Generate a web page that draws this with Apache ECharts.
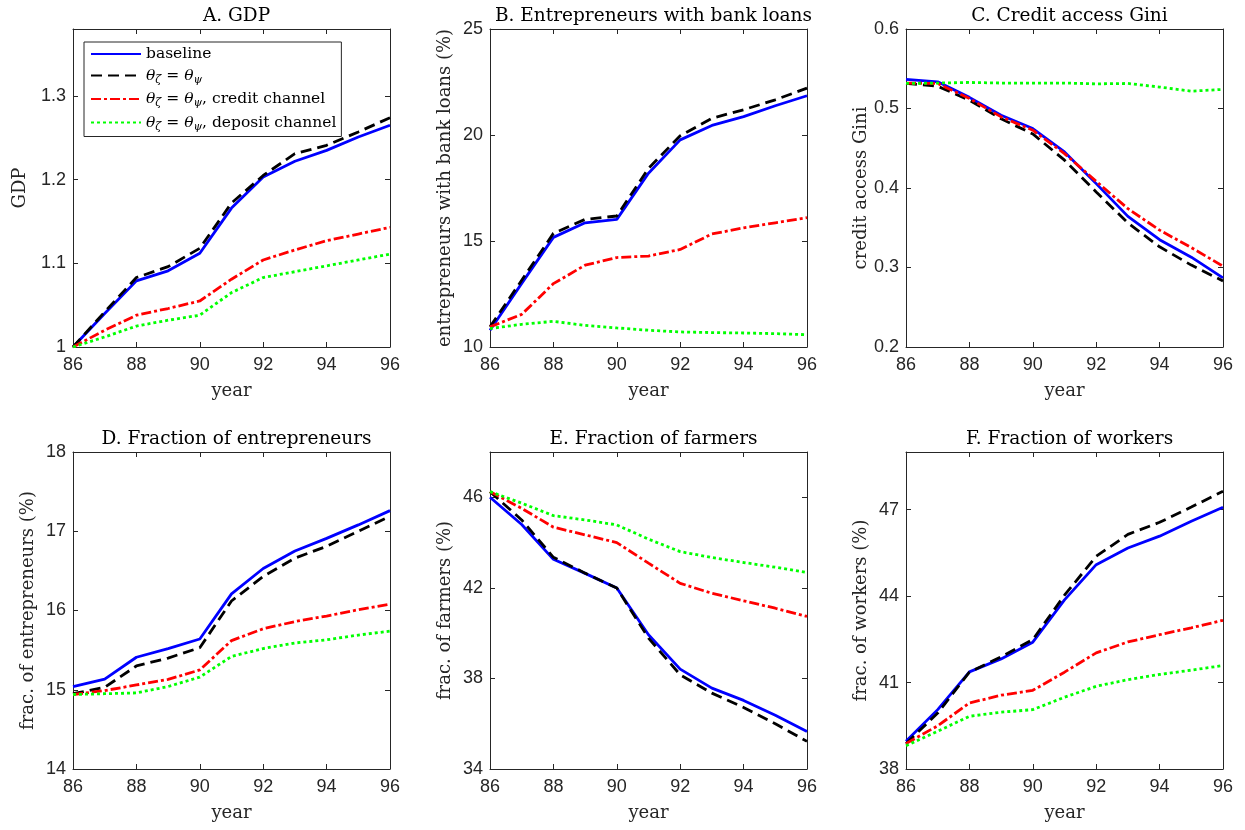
<!DOCTYPE html>
<html><head><meta charset="utf-8">
<script src="https://cdn.jsdelivr.net/npm/echarts@6/dist/echarts.min.js"></script>
<style>html,body{margin:0;padding:0;background:#fff}#c{width:1245px;height:830px}</style>
</head><body><div id="c"></div>
<script>
// ---------- DATA ----------
const years = [86, 87, 88, 89, 90, 91, 92, 93, 94, 95, 96];
const xRange = [86, 96, 2];

const panelTitles = ['A. GDP', 'B. Entrepreneurs with bank loans', 'C. Credit access Gini',
  'D. Fraction of entrepreneurs', 'E. Fraction of farmers', 'F. Fraction of workers'];
const yNames = ['GDP', 'entrepreneurs with bank loans (%)', 'credit access Gini',
  'frac. of entrepreneurs (%)', 'frac. of farmers (%)', 'frac. of workers (%)'];
const yRanges = [[1, 1.38, 0.1], [10, 25, 5], [0.2, 0.6, 0.1], [14, 18, 1], [34, 48, 4], [38, 49, 3]];
const xName = 'year';

const seriesKeys = ['baseline', 'equal', 'credit', 'deposit'];
const legendLabels = ['baseline', 'θζ = θψ', 'θζ = θψ, credit channel', 'θζ = θψ, deposit channel'];

const gdp_baseline = [1.0, 1.040, 1.079, 1.091, 1.112, 1.166, 1.203, 1.222, 1.235, 1.251, 1.265];
const gdp_equal    = [1.0, 1.042, 1.083, 1.096, 1.118, 1.172, 1.205, 1.231, 1.241, 1.257, 1.274];
const gdp_credit   = [1.0, 1.020, 1.038, 1.046, 1.055, 1.081, 1.104, 1.116, 1.127, 1.135, 1.143];
const gdp_deposit  = [1.0, 1.012, 1.025, 1.032, 1.038, 1.065, 1.083, 1.090, 1.097, 1.104, 1.111];

const loans_baseline = [10.79, 13.0, 15.17, 15.86, 16.02, 18.2, 19.77, 20.45, 20.87, 21.38, 21.85];
const loans_equal    = [10.95, 13.15, 15.36, 16.02, 16.18, 18.43, 19.96, 20.79, 21.19, 21.66, 22.21];
const loans_credit   = [10.95, 11.54, 12.99, 13.86, 14.22, 14.29, 14.6, 15.33, 15.62, 15.86, 16.1];
const loans_deposit  = [10.87, 11.07, 11.21, 11.02, 10.9, 10.79, 10.71, 10.68, 10.66, 10.63, 10.58];

const gini_baseline = [0.5366, 0.5336, 0.514, 0.4916, 0.4748, 0.4454, 0.4055, 0.3643, 0.335, 0.313, 0.287];
const gini_equal    = [0.5315, 0.528, 0.5105, 0.487, 0.468, 0.435, 0.395, 0.356, 0.326, 0.303, 0.283];
const gini_credit   = [0.532, 0.5315, 0.5126, 0.4895, 0.4727, 0.4433, 0.4084, 0.374, 0.347, 0.325, 0.3017];
const gini_deposit  = [0.5315, 0.532, 0.5328, 0.532, 0.532, 0.532, 0.531, 0.5315, 0.527, 0.5218, 0.524];

const entr_baseline = [15.04, 15.135, 15.41, 15.52, 15.64, 16.21, 16.53, 16.75, 16.91, 17.08, 17.26];
const entr_equal    = [14.95, 15.03, 15.3, 15.4, 15.53, 16.12, 16.43, 16.66, 16.81, 17.0, 17.19];
const entr_credit   = [14.94, 14.99, 15.06, 15.13, 15.25, 15.62, 15.77, 15.86, 15.93, 16.01, 16.08];
const entr_deposit  = [14.94, 14.95, 14.96, 15.04, 15.16, 15.42, 15.52, 15.59, 15.63, 15.69, 15.74];

const farm_baseline = [46.0, 44.8, 43.26, 42.64, 41.99, 39.93, 38.41, 37.57, 37.03, 36.37, 35.66];
const farm_equal    = [46.25, 45.0, 43.35, 42.65, 41.99, 39.78, 38.16, 37.35, 36.72, 36.0, 35.22];
const farm_credit   = [46.25, 45.51, 44.68, 44.34, 44.0, 43.09, 42.2, 41.76, 41.43, 41.1, 40.74];
const farm_deposit  = [46.25, 45.74, 45.19, 45.0, 44.78, 44.15, 43.6, 43.34, 43.12, 42.91, 42.68];

const work_baseline = [38.96, 40.06, 41.37, 41.82, 42.4, 43.87, 45.09, 45.67, 46.08, 46.6, 47.08];
const work_equal    = [38.88, 39.94, 41.36, 41.89, 42.49, 44.03, 45.38, 46.14, 46.56, 47.09, 47.64];
const work_credit   = [38.88, 39.5, 40.29, 40.56, 40.73, 41.36, 42.03, 42.41, 42.66, 42.9, 43.16];
const work_deposit  = [38.81, 39.31, 39.83, 39.97, 40.06, 40.49, 40.87, 41.1, 41.28, 41.43, 41.59];

const panelData = [
  [gdp_baseline, gdp_equal, gdp_credit, gdp_deposit],
  [loans_baseline, loans_equal, loans_credit, loans_deposit],
  [gini_baseline, gini_equal, gini_credit, gini_deposit],
  [entr_baseline, entr_equal, entr_credit, entr_deposit],
  [farm_baseline, farm_equal, farm_credit, farm_deposit],
  [work_baseline, work_equal, work_credit, work_deposit]
];

// ---------- LAYOUT / STYLE ----------
const gridBoxes = [
  {left: 73, top: 29, width: 317, height: 318},
  {left: 490, top: 29, width: 317, height: 318},
  {left: 906, top: 29, width: 317, height: 318},
  {left: 73, top: 452, width: 317, height: 317},
  {left: 490, top: 452, width: 317, height: 317},
  {left: 906, top: 452, width: 317, height: 317}
];
const lineStyles = [
  {color: '#0000ff', width: 2.8, type: 'solid'},
  {color: '#000000', width: 2.8, type: [11, 6]},
  {color: '#ff0000', width: 2.8, type: [10, 3, 3, 3]},
  {color: '#00ff00', width: 2.8, type: [3, 3]}
];
const AX = '#262626';
const SERIF = '"DejaVu Serif", "Liberation Serif", serif';
const SANS = '"Liberation Sans", Arial, sans-serif';

const option = {
  animation: false,
  backgroundColor: '#fff',
  title: [], grid: [], xAxis: [], yAxis: [], series: [],
  legend: {
    data: seriesKeys,
    orient: 'vertical',
    left: 84, top: 42,
    itemWidth: 50, itemHeight: 14, itemGap: 4.5,
    padding: [4, 5, 4, 6],
    borderColor: AX, borderWidth: 1, backgroundColor: '#fff',
    selectedMode: false,
    itemStyle: {opacity: 0},
    formatter: function (name) {
      const i = seriesKeys.indexOf(name);
      const lab = legendLabels[i];
      if (i === 0) return '{n|' + lab + '}';
      const rest = lab.slice(7);
      return '{it|θ}{sub|ζ}{n| = }{it|θ}{sub|ψ}' + (rest ? '{n|' + rest + '}' : '');
    },
    textStyle: {
      fontFamily: SERIF, fontSize: 15.5, color: '#000',
      rich: {
        n: {fontFamily: SERIF, fontSize: 15.5, color: '#000', lineHeight: 20},
        it: {fontFamily: SERIF, fontSize: 15.5, fontStyle: 'italic', color: '#000', lineHeight: 20},
        sub: {fontFamily: SERIF, fontSize: 11, fontStyle: 'italic', color: '#000', verticalAlign: 'bottom', lineHeight: 12, padding: [8, 0, 0, 0]}
      }
    }
  }
};

for (let p = 0; p < 6; p++) {
  const g = gridBoxes[p];
  const yr = yRanges[p];
  option.grid.push(Object.assign({containLabel: false}, g));
  option.title.push({
    text: panelTitles[p], left: g.left + g.width / 2, top: g.top - 27, textAlign: 'center',
    textStyle: {fontFamily: SERIF, fontSize: 18.5, fontWeight: 'normal', color: '#000'}
  });
  const showMax = Math.abs(((yr[1] - yr[0]) / yr[2]) - Math.round((yr[1] - yr[0]) / yr[2])) < 1e-6;
  option.xAxis.push({
    type: 'value', gridIndex: p, min: xRange[0], max: xRange[1], interval: xRange[2],
    position: 'bottom', name: xName, nameLocation: 'middle', nameGap: 35,
    nameTextStyle: {fontFamily: SERIF, fontSize: 18, color: AX},
    axisLine: {show: true, lineStyle: {color: AX, width: 1}},
    axisTick: {show: true, inside: true, length: 5, lineStyle: {color: AX}},
    axisLabel: {fontFamily: SANS, fontSize: 18, color: AX, margin: 9},
    splitLine: {show: false}
  });
  option.xAxis.push({
    type: 'value', gridIndex: p, min: xRange[0], max: xRange[1], interval: xRange[2],
    position: 'top',
    axisLine: {show: true, onZero: false, lineStyle: {color: AX, width: 1}},
    axisTick: {show: true, inside: true, length: 5, lineStyle: {color: AX}},
    axisLabel: {show: false}, splitLine: {show: false}
  });
  option.yAxis.push({
    type: 'value', gridIndex: p, min: yr[0], max: yr[1], interval: yr[2],
    position: 'left', name: yNames[p], nameLocation: 'middle', nameGap: p === 0 ? 44 : 36,
    nameTextStyle: {fontFamily: SERIF, fontSize: 18, color: AX},
    axisLine: {show: true, onZero: false, lineStyle: {color: AX, width: 1}},
    axisTick: {show: true, inside: true, length: 5, lineStyle: {color: AX}},
    axisLabel: {fontFamily: SANS, fontSize: 18, color: AX, margin: 7, showMaxLabel: showMax},
    splitLine: {show: false}
  });
  option.yAxis.push({
    type: 'value', gridIndex: p, min: yr[0], max: yr[1], interval: yr[2],
    position: 'right',
    axisLine: {show: true, onZero: false, lineStyle: {color: AX, width: 1}},
    axisTick: {show: true, inside: true, length: 5, lineStyle: {color: AX}},
    axisLabel: {show: false}, splitLine: {show: false}
  });
  for (let s = 0; s < 4; s++) {
    const vals = panelData[p][s];
    option.series.push({
      type: 'line', name: seriesKeys[s],
      xAxisIndex: 2 * p, yAxisIndex: 2 * p,
      data: years.map((y, i) => [y, vals[i]]),
      symbol: 'none', showSymbol: false,
      lineStyle: lineStyles[s], itemStyle: {color: lineStyles[s].color},
      z: 2 + s
    });
  }
}

const chart = echarts.init(document.getElementById('c'), null, {renderer: 'canvas'});
chart.setOption(option);
</script></body></html>
